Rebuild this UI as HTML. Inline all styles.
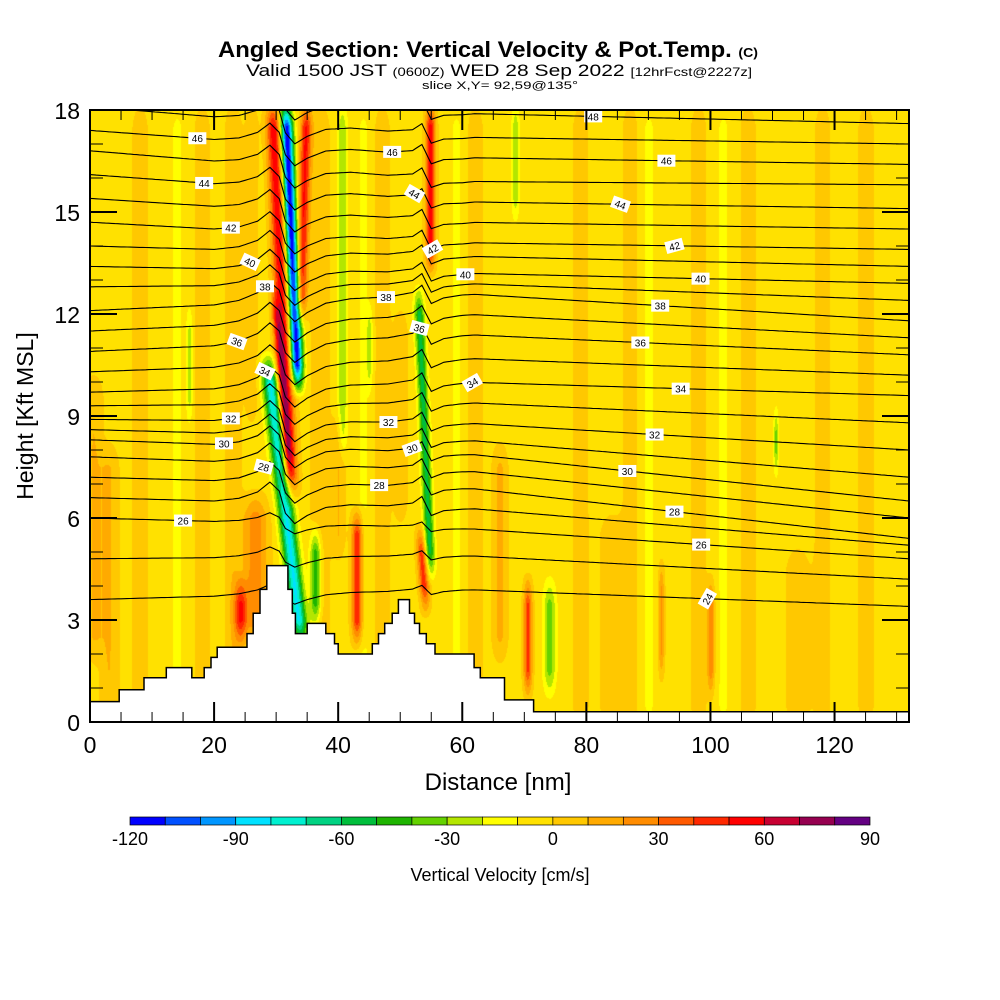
<!DOCTYPE html>
<html><head><meta charset="utf-8">
<style>
html,body{margin:0;padding:0;background:#fff;}
body{width:1000px;height:1000px;position:relative;overflow:hidden;font-family:"Liberation Sans",sans-serif;}
canvas{position:absolute;left:90px;top:110px;}
svg{position:absolute;left:0;top:0;}
</style></head>
<body>
<canvas id="field" width="819" height="612"></canvas>
<svg id="svg" width="1000" height="1000">
<text x="488" y="57" text-anchor="middle" font-size="22" font-weight="bold" textLength="540" lengthAdjust="spacingAndGlyphs">Angled Section: Vertical Velocity &amp; Pot.Temp. <tspan font-size="13">(C)</tspan></text>
<text x="499" y="76" text-anchor="middle" font-size="17" textLength="506" lengthAdjust="spacingAndGlyphs">Valid 1500 JST <tspan font-size="12">(0600Z)</tspan> WED 28 Sep 2022 <tspan font-size="12">[12hrFcst@2227z]</tspan></text>
<text x="500" y="89" text-anchor="middle" font-size="11" textLength="156" lengthAdjust="spacingAndGlyphs">slice X,Y= 92,59@135°</text>
<text x="498" y="790" text-anchor="middle" font-size="24">Distance [nm]</text>
<text transform="translate(33,416) rotate(-90)" text-anchor="middle" font-size="23">Height [Kft MSL]</text>
<text x="500" y="881" text-anchor="middle" font-size="18">Vertical Velocity [cm/s]</text>
<g id="plot"></g>
</svg>
<script>
// ---- data ----
const cbColors=["#0000ff","#0050ff","#0096ff","#00e1ff","#00f0d0","#00d282","#00be3c","#1eb400","#64d200","#b4e600","#ffff00","#ffe100","#ffc800","#ffaa00","#ff8c00","#ff5a00","#ff2800","#ff0000","#c80032","#960050","#640082"];
const cbTicks=[-120,-90,-60,-30,0,30,60,90];
const xTicks=[0,20,40,60,80,100,120];
const yTicks=[0,3,6,9,12,15,18];
// velocity features: x at top, x at bottom (nm), bottom/top height (kft), half-width (nm), peak (cm/s)
const fXTop=[29.4,29.7,31.5,28.7,34.8,54.8,52.9,53.2,43,36.3,40.6,26.6,24.2,70.5,74,110.5,68.5,16,45,3,8,18,23,37,47,62,79,87,98,106,118,125,100,92,14,44,59,90,102,0.5,26,50,84,114,66,40];
const fXBot=[32.3,32.0,33.4,33.9,33.9,54.8,54.8,54.0,43,36.3,40.6,26.6,24.2,70.5,74,110.5,68.5,16,45,3,8,18,23,37,47,62,79,87,98,106,118,125,100,92,14,44,59,90,102,0.5,26,50,84,114,66,40];
const fYBot=[6.8,7.5,10,2.5,12,13.5,4.5,3.5,2.5,3,8,2.5,2.5,1,1,7.5,15,9,10,0,0,0,0,0,0,0,0,0,0,0,0,0,1,1.5,0,0,0,0,0,2,9,6,0,0,2,5];
const fYTop=[18,12.5,18,10.5,18,18,12.5,5.5,6,5.5,18,6.5,4,4,4,9,18,12,12,8,18,18,18,18,18,18,18,18,18,18,18,18,4,4.5,18,18,18,18,18,10,18,12,6,5,8,9];
const fW=[1.2,0.7,1.0,1.3,0.9,0.8,0.8,0.8,0.9,0.9,0.8,2.0,1.0,0.7,1.0,0.4,0.6,0.5,0.5,1.5,1.3,1.3,1.3,1.5,1.3,1.3,1.3,1.3,1.3,1.3,1.3,1.3,0.6,0.5,1.2,1.2,1.2,1.2,1.2,1.5,1.0,1.2,2.0,2.0,1.2,1.0];
const fV=[62,35,-115,-78,55,60,-52,50,55,-50,-25,30,45,45,-30,-30,-25,-20,-20,14,10,10,12,12,10,10,10,10,10,10,10,10,30,25,-8,-8,-8,-8,-8,14,12,10,10,10,16,14];
const baseVel=-4;
// terrain steps: start nm, end nm, height kft
const terX0=[0,1,4.7,8.7,12.3,16.4,18.4,19.5,20.5,25.3,26.3,27.4,28.5,28.9,31.9,32.6,33.1,34.7,35,36.5,38,39.4,40,42.2,45.5,46.5,47.5,48.7,49.7,51.5,52.3,53.1,54.2,55.6,57.4,61.9,62.9,66.8,68.9,71.5];
const terX1=[1,4.7,8.7,12.3,16.4,18.4,19.5,20.5,25.3,26.3,27.4,28.5,28.9,31.9,32.6,33.1,34.7,35,36.5,38,39.4,40,42.2,45.5,46.5,47.5,48.7,49.7,51.5,52.3,53.1,54.2,55.6,57.4,61.9,62.9,66.8,68.9,71.5,132];
const terH=[0.6,0.6,0.95,1.3,1.6,1.3,1.6,1.9,2.2,2.6,3.2,3.9,4.6,4.6,3.9,3.2,2.6,2.6,2.9,2.9,2.6,2.3,2.0,2.0,2.3,2.6,2.9,3.2,3.6,3.2,2.9,2.6,2.3,2.0,2.0,1.6,1.3,0.65,0.65,0.3];
// potential temperature contours
const thetaLevels=[24,25,26,27,28,29,30,31,32,33,34,35,36,37,38,39,40,41,42,43,44,45,46,47,48];
const zLeft=[3.6,4.8,6.0,6.6,7.2,7.8,8.3,8.6,8.9,9.3,9.7,10.3,10.9,11.5,12.1,12.8,13.4,14.0,14.7,15.4,16.1,16.8,17.4,18.1,18.8];
const zMid=[3.9,4.9,5.7,6.3,6.9,7.4,7.9,8.3,8.8,9.4,10.0,10.7,11.4,12.0,12.6,12.9,13.2,13.7,14.1,14.7,15.3,15.9,16.6,17.2,17.9];
const zRight=[3.4,4.2,4.8,5.2,5.4,6.0,6.5,7.2,8.0,8.8,9.6,10.2,10.8,11.3,11.8,12.4,12.9,13.4,13.9,14.5,15.1,15.8,16.4,17.0,17.6];
const waveX=[0,20,24,27,29,30.5,31.5,33,35,38,42,48,52,53.5,55,57,62,132];
const waveD=[0,0,0.1,0.3,0.6,0.35,-0.3,-0.6,-0.35,-0.1,0,0,0.1,0.3,-0.25,-0.1,0,0];
const labLevel=[46,44,42,40,38,36,34,32,30,28,26,46,44,42,40,38,36,34,32,30,28,48,46,44,42,40,38,36,34,32,30,28,26,24];
const labX=[17.3,18.4,22.7,25.8,28.2,23.7,28.2,22.7,21.6,28,15,48.7,52.3,55.2,60.5,47.7,53.1,61.6,48.1,51.9,46.6,81.1,92.9,85.5,94.2,98.4,91.9,88.7,95.2,91,86.6,94.2,98.5,99.5];
const labAng=[0,0,0,25,0,20,25,0,0,15,0,0,30,-30,0,0,15,-30,0,-20,0,0,0,20,-15,0,0,0,0,0,0,0,0,-60];
// ---- axes ----
const PX0=90,PX1=909,PY0=110,PY1=722,XMAX=132,YMAX=18;
const sx=v=>PX0+v*(PX1-PX0)/XMAX;
const sy=v=>PY1-v*(PY1-PY0)/YMAX;
const NS="http://www.w3.org/2000/svg";
const plot=document.getElementById('plot');
function mk(tag,attrs,parent){const e=document.createElementNS(NS,tag);for(const k in attrs)e.setAttribute(k,attrs[k]);(parent||plot).appendChild(e);return e;}
function interp(xs,ys,x){if(x<=xs[0])return ys[0];for(let i=1;i<xs.length;i++){if(x<=xs[i]){const t=(x-xs[i-1])/(xs[i]-xs[i-1]);return ys[i-1]+t*(ys[i]-ys[i-1]);}}return ys[ys.length-1];}
// ---- field ----
const cv=document.getElementById('field'),ctx=cv.getContext('2d');
const W=cv.width,H=cv.height,img=ctx.createImageData(W,H);
const rgb=cbColors.map(c=>[parseInt(c.substr(1,2),16),parseInt(c.substr(3,2),16),parseInt(c.substr(5,2),16)]);
function smooth(a,b,z,e){const l=Math.min(1,Math.max(0,(z-a)/e+0.5)),u=Math.min(1,Math.max(0,(b-z)/e+0.5));return l*u;}
for(let py=0;py<H;py++){const z=YMAX*(1-py/H);
 const fx=[];for(let k=0;k<fV.length;k++){const t=Math.min(1,Math.max(0,(z-fYBot[k])/Math.max(0.01,fYTop[k]-fYBot[k])));fx.push([fXBot[k]+(fXTop[k]-fXBot[k])*t,smooth(fYBot[k],fYTop[k],z,1.0)]);}
 for(let px=0;px<W;px++){const x=px*XMAX/W;let v=baseVel;
  for(let k=0;k<fV.length;k++){if(fx[k][1]===0)continue;const d=(x-fx[k][0])/fW[k];if(d>3||d<-3)continue;v+=fV[k]*Math.exp(-d*d)*fx[k][1];}
  let b=Math.floor((v+120)/10);b=Math.max(0,Math.min(20,b));const c=rgb[b],i=(py*W+px)*4;img.data[i]=c[0];img.data[i+1]=c[1];img.data[i+2]=c[2];img.data[i+3]=255;}}
ctx.putImageData(img,0,0);
// ---- contours ----
const clipDef=mk('defs',{});const cp=mk('clipPath',{id:'pc'},clipDef);mk('rect',{x:PX0,y:PY0,width:PX1-PX0,height:PY1-PY0},cp);
const cg=mk('g',{'clip-path':'url(#pc)'});


function zTheta(i,x){const base=x<=60?zLeft[i]+(zMid[i]-zLeft[i])*x/60:zMid[i]+(zRight[i]-zMid[i])*(x-60)/72;return base+interp(waveX,waveD,x)*(i>=3?1:0.5);}
thetaLevels.forEach((th,i)=>{let d='';for(let x=0;x<=XMAX;x+=0.5){d+=(x?'L':'M')+sx(x).toFixed(1)+','+sy(zTheta(i,x)).toFixed(1);}
 const p=mk('path',{d:d,fill:'none',stroke:'#000','stroke-width':1.1},cg);
 
 });
// terrain
let td='M'+sx(0)+','+sy(0);terX0.forEach((x0,i)=>{td+='L'+sx(x0).toFixed(1)+','+sy(terH[i]).toFixed(1)+'L'+sx(terX1[i]).toFixed(1)+','+sy(terH[i]).toFixed(1);});td+='L'+sx(XMAX)+','+sy(0)+'Z';
const ter=mk('path',{d:td,fill:'#fff',stroke:'#000','stroke-width':1.5});


// labels
labLevel.forEach((lv,j)=>{const i=thetaLevels.indexOf(lv);const x=sx(labX[j]),y=sy(zTheta(i,labX[j]));
 if(y<PY0+4)return;
 const g=mk('g',{transform:`translate(${x},${y}) rotate(${labAng[j]})`});
 
 
 mk('rect',{x:-9,y:-6,width:18,height:12,fill:'#fff'},g);
 const t=mk('text',{x:0,y:4,'text-anchor':'middle','font-size':10},g);t.textContent=lv;});
// frame & ticks
const fr=mk('rect',{x:PX0,y:PY0,width:PX1-PX0,height:PY1-PY0,fill:'none',stroke:'#000','stroke-width':2});


for(let v=0;v<=XMAX;v+=5){const maj=v%20===0,L=maj?20:10,x=sx(v);
 mk('line',{x1:x,y1:PY1,x2:x,y2:PY1-L,stroke:'#000','stroke-width':maj?2:1});
 mk('line',{x1:x,y1:PY0,x2:x,y2:PY0+L,stroke:'#000','stroke-width':maj?2:1});}
for(let v=0;v<=YMAX;v++){const maj=v%3===0,L=maj?27:13,y=sy(v);
 mk('line',{x1:PX0,y1:y,x2:PX0+L,y2:y,stroke:'#000','stroke-width':maj?2:1});
 mk('line',{x1:PX1,y1:y,x2:PX1-L,y2:y,stroke:'#000','stroke-width':maj?2:1});}
xTicks.forEach(v=>{const t=mk('text',{x:sx(v),y:753,'text-anchor':'middle','font-size':23});t.textContent=v;
 
 });
yTicks.forEach(v=>{const t=mk('text',{x:80,y:sy(v)+9,'text-anchor':'end','font-size':23});t.textContent=v;
 
 });
// colorbar
const CB0=130,CB1=870,bw=(CB1-CB0)/cbColors.length;
cbColors.forEach((c,i)=>{const r=mk('rect',{x:CB0+i*bw,y:817,width:bw,height:8,fill:c,stroke:'#000','stroke-width':0.7});
 
 });
cbTicks.forEach(v=>{const t=mk('text',{x:CB0+(v+120)/210*(CB1-CB0),y:845,'text-anchor':'middle','font-size':18});t.textContent=v;
 
 });
</script>
</body></html>
